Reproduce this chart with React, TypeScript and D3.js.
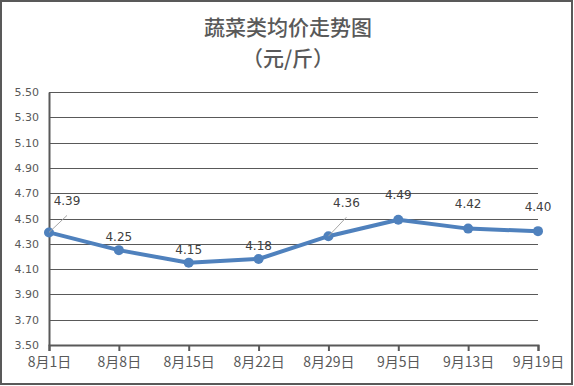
import React, { useRef, useEffect } from "react";
import * as d3 from "d3";

const dates = ["8月1日", "8月8日", "8月15日", "8月22日", "8月29日", "9月5日", "9月13日", "9月19日"];
const prices = [4.39, 4.25, 4.15, 4.18, 4.36, 4.49, 4.42, 4.40];
const yTicks = [3.5, 3.7, 3.9, 4.1, 4.3, 4.5, 4.7, 4.9, 5.1, 5.3, 5.5];
// label offsets relative to the point [dx, dy]; leader = draws a thin line
const labelOffsets: [number, number, boolean][] = [
  [18, -27, true], [0, -9, false], [0, -9, false], [0, -9, false],
  [18, -29, true], [0, -21, false], [0, -21, false], [0, -20, false],
];

const App = () => {
  const ref = useRef<SVGSVGElement>(null);

  useEffect(() => {
    const svg = d3.select(ref.current);
    svg.selectAll("*").remove();

    const width = 574;
    const height = 386;
    const margin = { top: 92, right: 36, bottom: 41, left: 49 };
    const grey = "#595959";

    svg.append("rect")
      .attr("x", 1).attr("y", 1)
      .attr("width", width - 3).attr("height", height - 3)
      .attr("fill", "#fff")
      .attr("stroke", grey)
      .attr("stroke-width", 2);

    svg.append("text")
      .attr("x", 288).attr("y", 35)
      .attr("text-anchor", "middle")
      .style("font-family", "'Noto Sans CJK SC', sans-serif")
      .style("font-size", "21px")
      .style("font-weight", "500")
      .attr("fill", grey)
      .text("蔬菜类均价走势图");

    svg.append("text")
      .attr("x", 288).attr("y", 66)
      .attr("text-anchor", "middle")
      .style("font-family", "'Noto Sans CJK SC', sans-serif")
      .style("font-size", "21px")
      .style("font-weight", "500")
      .attr("fill", grey)
      .text("（元/斤）");

    const x = d3.scalePoint<string>()
      .domain(dates)
      .range([margin.left, width - margin.right]);

    const y = d3.scaleLinear()
      .domain([3.5, 5.5])
      .range([height - margin.bottom, margin.top]);

    // gridlines
    svg.append("g")
      .selectAll("line")
      .data(yTicks.slice(1))
      .enter()
      .append("line")
      .attr("x1", margin.left)
      .attr("x2", width - margin.right)
      .attr("y1", d => Math.round(y(d)) + 0.5)
      .attr("y2", d => Math.round(y(d)) + 0.5)
      .attr("stroke", grey)
      .attr("stroke-width", 1);

    const yAxis = svg.append("g")
      .attr("transform", `translate(${margin.left},0)`)
      .call(d3.axisLeft(y).tickValues(yTicks).tickFormat(d3.format(".2f")).tickSize(0).tickPadding(10));
    yAxis.select(".domain").attr("stroke", grey).attr("stroke-width", 2);
    yAxis.selectAll("text")
      .attr("fill", grey)
      .style("font-family", "'DejaVu Sans', Verdana, sans-serif")
      .style("font-size", "11px");

    const xAxis = svg.append("g")
      .attr("transform", `translate(0,${height - margin.bottom})`)
      .call(d3.axisBottom(x).tickSize(6).tickPadding(6));
    xAxis.select(".domain").attr("stroke", grey).attr("stroke-width", 2);
    xAxis.selectAll("line").attr("stroke", grey).attr("stroke-width", 2);
    xAxis.selectAll("text")
      .attr("fill", grey)
      .style("font-family", "'Noto Sans CJK SC', sans-serif")
      .style("font-size", "14px");

    const line = d3.line<number>()
      .x((d, i) => x(dates[i])!)
      .y(d => y(d));

    svg.append("path")
      .datum(prices)
      .attr("fill", "none")
      .attr("stroke", "#4F81BD")
      .attr("stroke-width", 4)
      .attr("stroke-linejoin", "round")
      .attr("d", line);

    svg.selectAll(".pt")
      .data(prices)
      .enter()
      .append("circle")
      .attr("cx", (d, i) => x(dates[i])!)
      .attr("cy", d => y(d))
      .attr("r", 5)
      .attr("fill", "#4F81BD");

    prices.forEach((d, i) => {
      const px = x(dates[i])!;
      const py = y(d);
      const [dx, dy, leader] = labelOffsets[i];
      if (leader) {
        svg.append("line")
          .attr("x1", px).attr("y1", py)
          .attr("x2", px + dx).attr("y2", py + dy + 10)
          .attr("stroke", "#a6a6a6")
          .attr("stroke-width", 1);
      }
      svg.append("text")
        .attr("x", px + dx)
        .attr("y", py + dy)
        .attr("text-anchor", "middle")
        .attr("fill", "#404040")
        .style("font-family", "'DejaVu Sans', Verdana, sans-serif")
        .style("font-size", "12px")
        .text(d.toFixed(2));
    });
  }, []);

  return <svg ref={ref} width={574} height={386} style={{ position: "absolute", left: 0, top: 0 }}></svg>;
};

export default App;
